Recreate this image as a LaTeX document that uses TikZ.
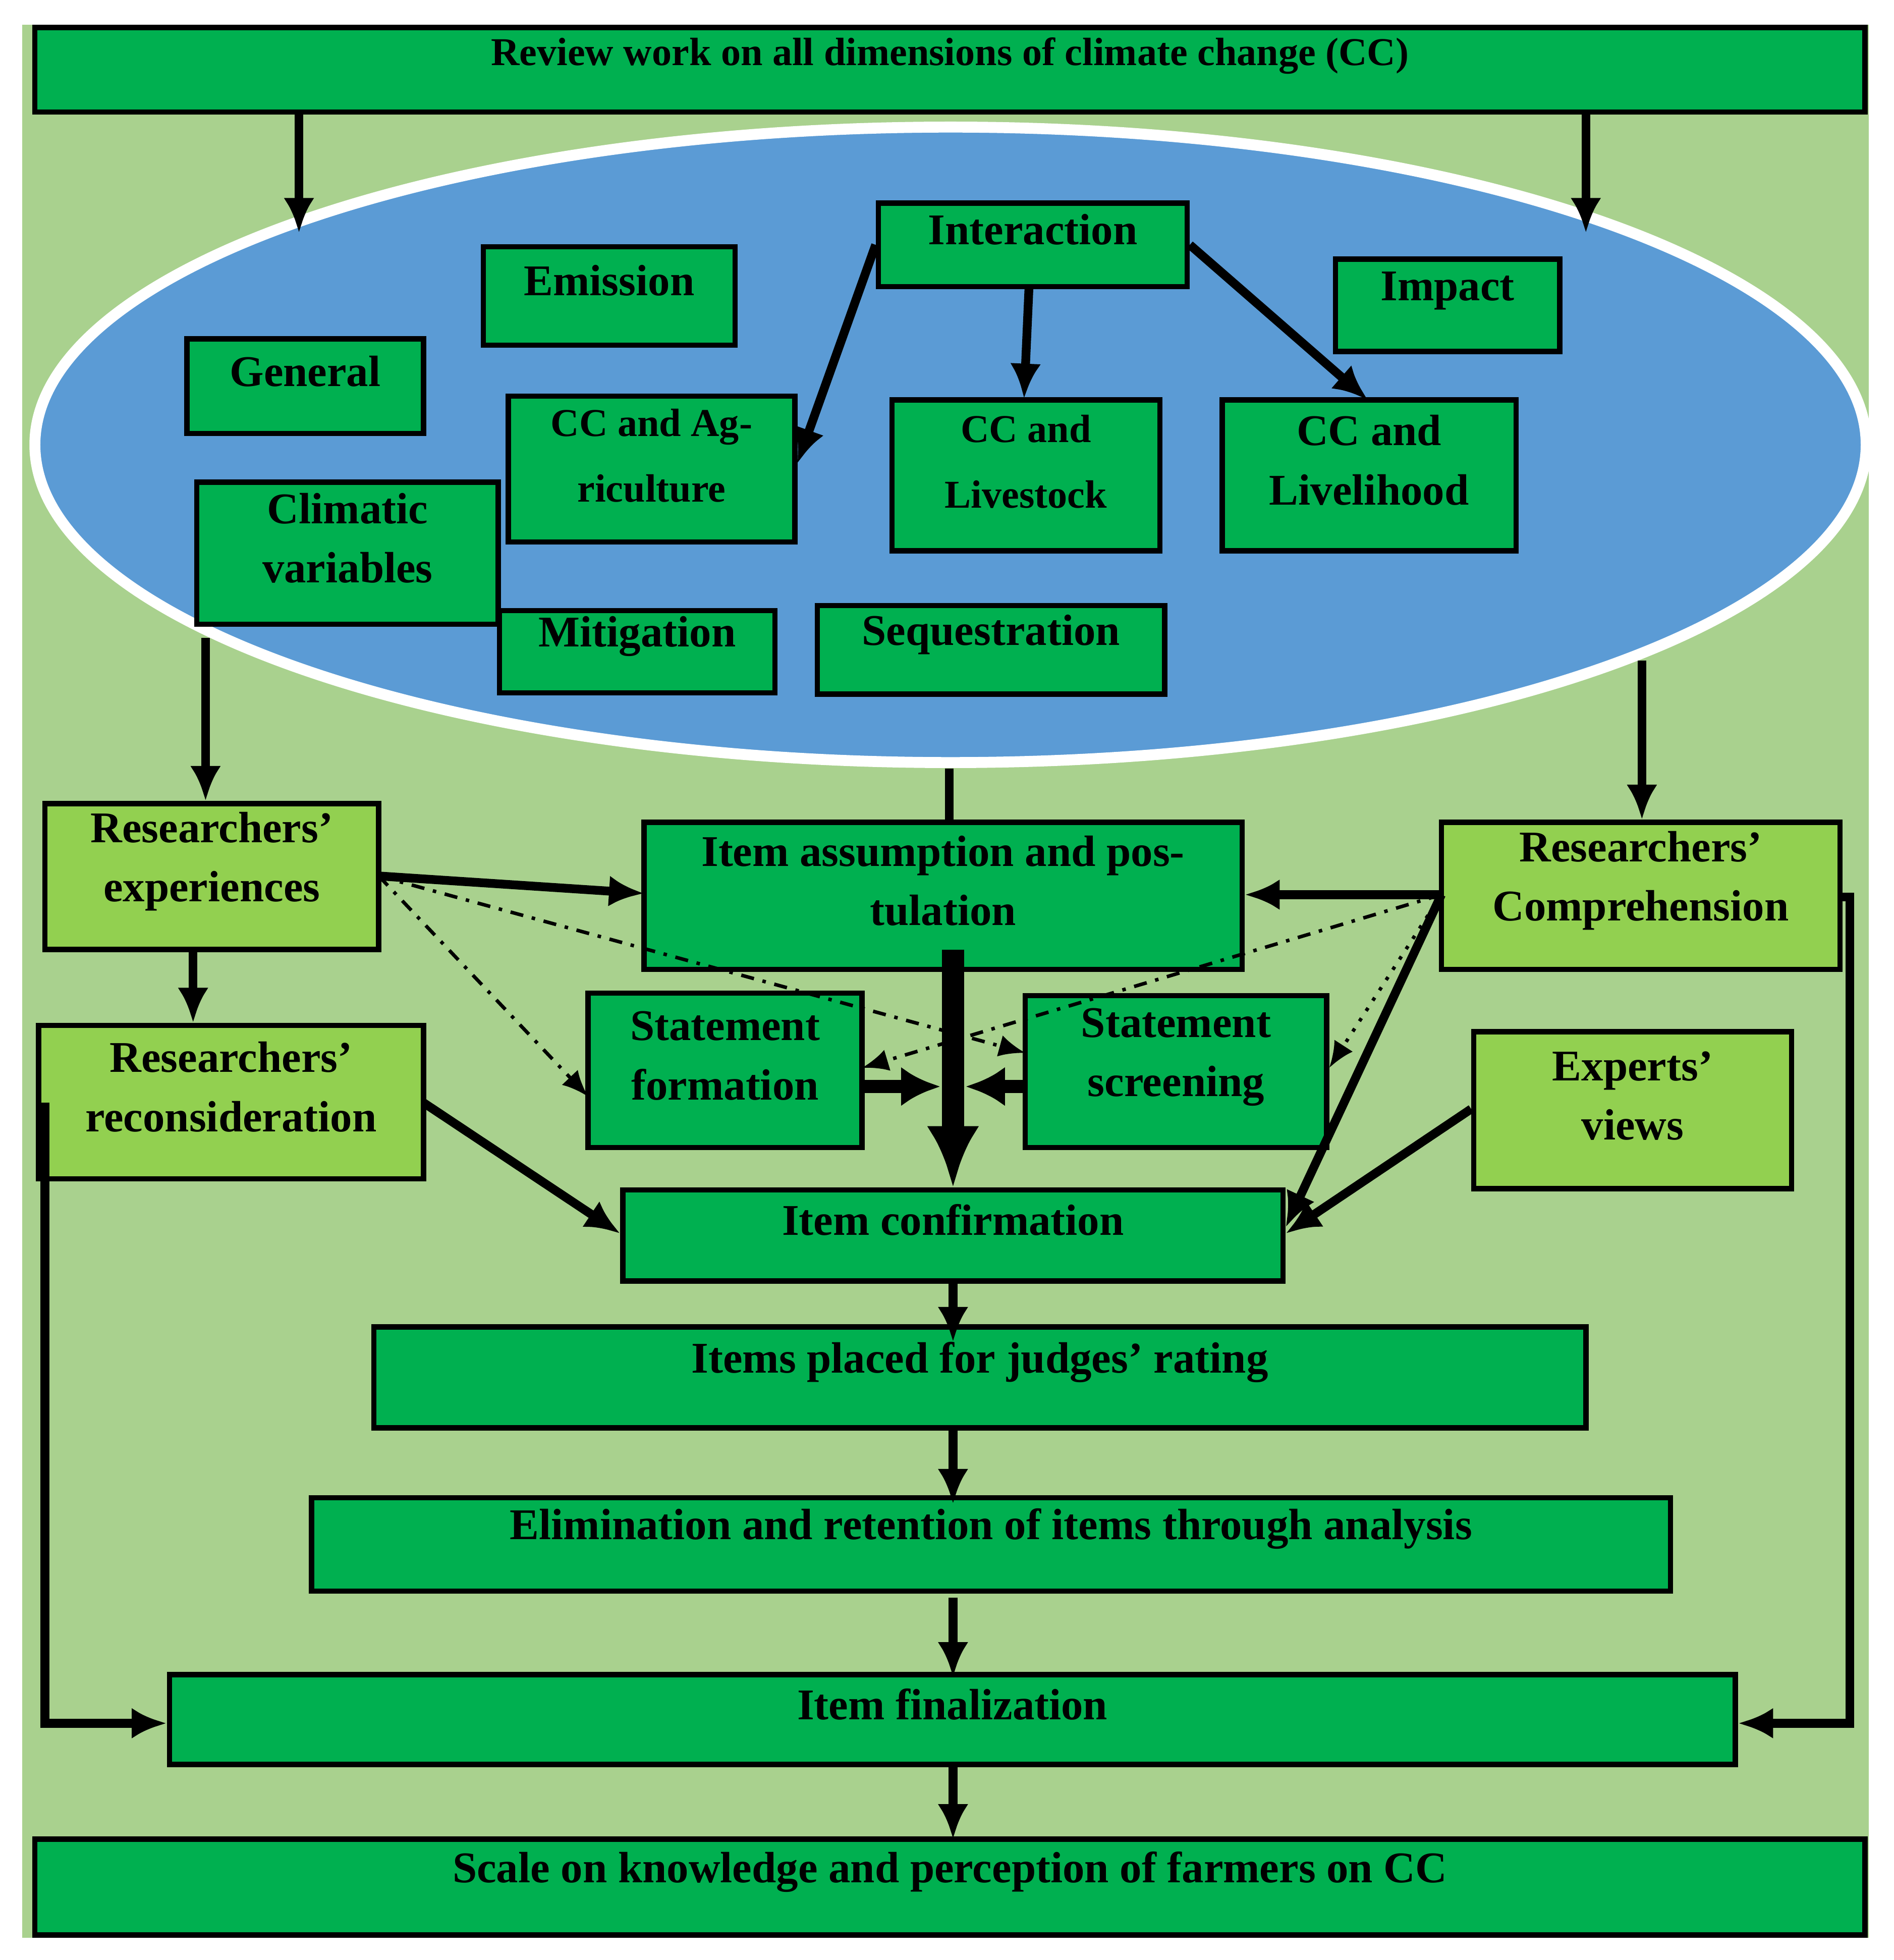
\documentclass[tikz,border=0pt]{standalone}
\usepackage{fontspec}
\setmainfont{Liberation Serif}
\usetikzlibrary{fit,arrows.meta,calc}
\definecolor{bg}{HTML}{A9D18E}
\definecolor{dg}{HTML}{00B050}
\definecolor{lg}{HTML}{92D050}
\definecolor{bl}{HTML}{5B9BD5}
\begin{document}
\begin{tikzpicture}[x=0.01cm,y=-0.01cm,
 box/.style={draw=black,line width=1.2pt,fill=dg,inner sep=0pt,align=center,font=\fontsize{10}{13.5}\selectfont\bfseries},
 lbox/.style={box,fill=lg},
 ar/.style={line width=2pt,-{Latex[length=8pt,width=7pt]}},
 dd/.style={line width=0.8pt,dash dot,-{Latex[length=6pt,width=5pt]}},
 dt/.style={line width=0.8pt,dotted,-{Latex[length=6pt,width=5pt]}}]
\useasboundingbox (0,0) rectangle (1520,1573);
\fill[bg] (18,20) rectangle (1500,1555);
\node[box,fit={(28,22)(1497,90)},font=\fontsize{9}{11}\selectfont\bfseries] (top) {Review work on all dimensions of climate change (CC)};
\filldraw[fill=bl,draw=white,line width=2.5pt] (763,357) ellipse [x radius=735,y radius=255];
\node[box,fit={(705,163)(953,230)}] (int) {Interaction};
\node[box,fit={(388,198)(590,277)}] (emi) {Emission};
\node[box,fit={(1072,208)(1252,282)}] (imp) {Impact};
\node[box,fit={(150,272)(340,348)}] (gen) {General};
\node[box,fit={(408,318)(638,435)},font=\fontsize{9}{15}\selectfont\bfseries] (agr) {CC and Ag-\\riculture};
\node[box,fit={(716,321)(931,442)},font=\fontsize{9}{15}\selectfont\bfseries] (liv) {CC and\\Livestock};
\node[box,fit={(981,321)(1217,442)}] (lih) {CC and\\Livelihood};
\node[box,fit={(158,387)(400,501)}] (cli) {Climatic\\variables};
\node[box,fit={(401,490)(622,556)}] (mit) {Mitigation};
\node[box,fit={(656,486)(935,557)}] (seq) {Sequestration};
\node[lbox,fit={(36,645)(304,762)}] (exp) {Researchers'\\experiences};
\node[box,fit={(517,660)(997,778)}] (ass) {Item assumption and pos-\\tulation};
\node[lbox,fit={(1157,660)(1477,778)}] (com) {Researchers'\\Comprehension};
\node[lbox,fit={(31,823)(340,946)}] (rec) {Researchers'\\reconsideration};
\node[box,fit={(472,797)(692,921)}] (sf) {Statement\\formation};
\node[box,fit={(823,799)(1065,921)}] (ss) {Statement\\screening};
\node[lbox,fit={(1183,828)(1438,954)}] (ev) {Experts'\\views};
\node[box,fit={(500,955)(1030,1028)}] (ic) {Item confirmation};
\node[box,fit={(300,1065)(1273,1146)}] (jr) {Items placed for judges' rating};
\node[box,fit={(250,1202)(1341,1277)}] (el) {Elimination and retention of items through analysis};
\node[box,fit={(136,1344)(1393,1416)}] (fin) {Item finalization};
\node[box,fit={(28,1476)(1497,1553)}] (sc) {Scale on knowledge and perception of farmers on CC};
% top arrows
\coordinate (e1) at (240,187); \coordinate (e2) at (1273,187);
\draw[ar] (top.south -| e1) -- (e1);
\draw[ar] (top.south -| e2) -- (e2);
\draw[ar] (int.west) -- (640,372);
\draw[ar] (826,230) -- (822,320);
\draw[ar] (int.east) -- (1098,321);
\coordinate (c1) at (165,512); \coordinate (c2) at (1318,530); \coordinate (c3) at (762,617);
\draw[ar] (c1) -- (exp.north -| c1);
\draw[ar] (c2) -- (com.north -| c2);
\draw[line width=2pt] (c3) -- (ass.north -| c3);
\coordinate (xo) at (304,703); \coordinate (co) at (1157,718);
\draw[ar] (xo) -- (517,717);
\draw[dd] (xo) -- (472,880);
\draw[dd] (xo) -- (823,845);
\draw[ar] (155,762) -- (rec.north -| 155,0);
\draw[ar] (co) -- (ass.east |- co);
\draw[dd] (co) -- (692,857);
\draw[dt] (co) -- (1067,857);
\draw[ar] (co) -- (1032,985);
\draw[line width=5pt,-{Latex[length=14pt,width=12pt]}] (765,762) -- (765,953);
\draw[line width=3pt,-{Latex[length=9pt,width=9pt]}] (692,872) -- (755,872);
\draw[line width=3pt,-{Latex[length=9pt,width=9pt]}] (823,872) -- (775,872);
\draw[ar] (340,885) -- (ic.west |- 0,990);
\draw[ar] (ev.west |- 0,890) -- (1032,990);
\draw[ar] (ic.south -| 765,0) -- (765,1077);
\draw[ar] (jr.south -| 765,0) -- (765,1207);
\draw[ar] (765,1282) -- (765,1346);
\draw[ar] (fin.south -| 765,0) -- (765,1476);
\draw[ar] (36,885) -- (36,1383) -- (fin.west |- 0,1383);
\draw[ar] (1477,720) -- (1485,720) -- (1485,1383) -- (fin.east |- 0,1383);
\end{tikzpicture}
\end{document}
